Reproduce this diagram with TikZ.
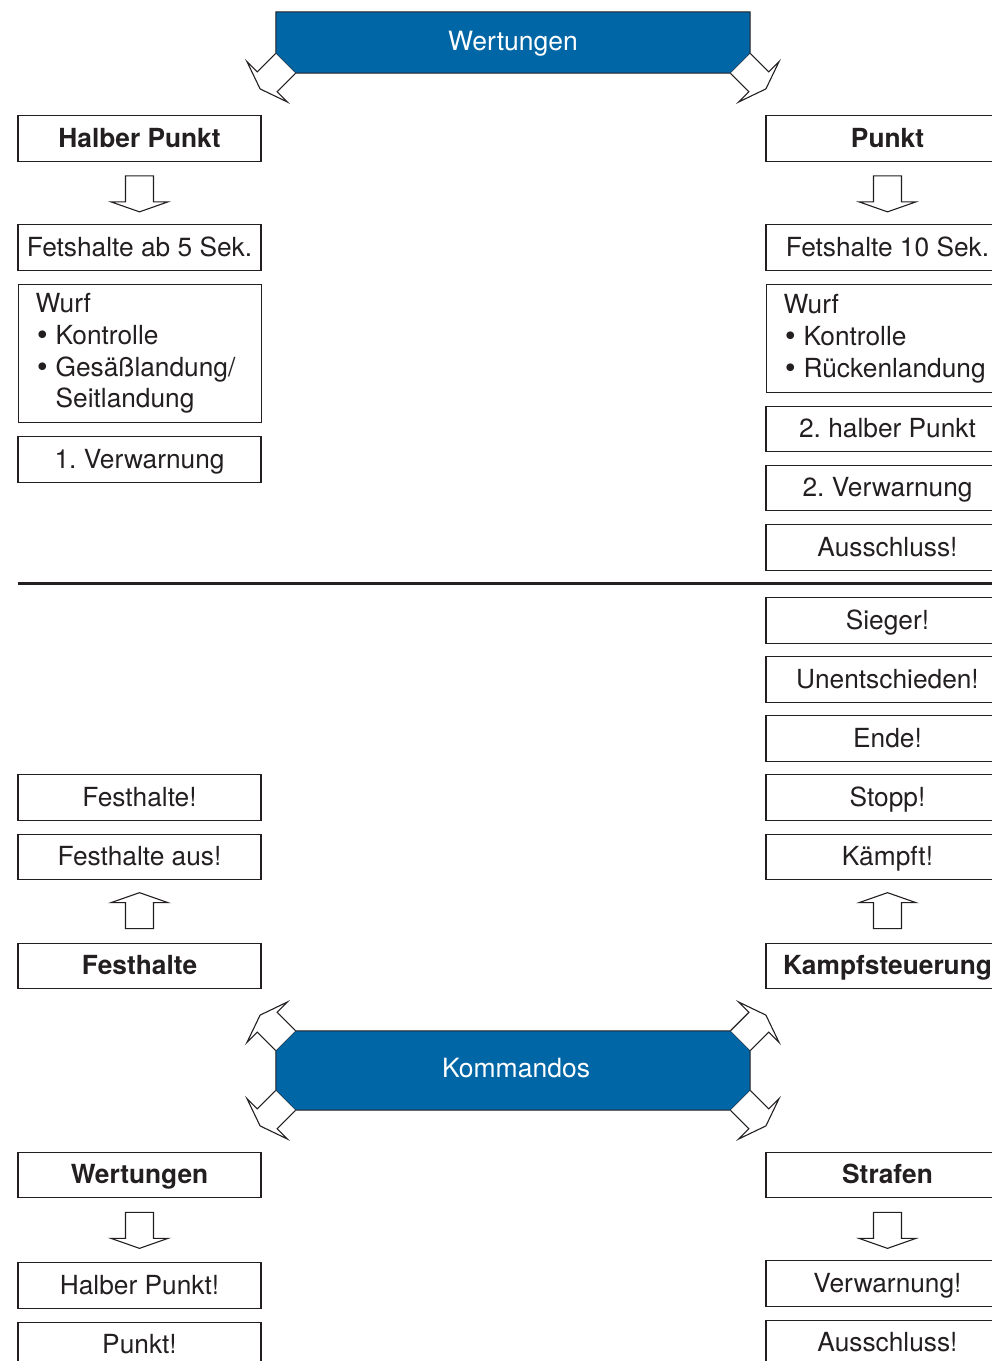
\documentclass[tikz,border=0pt]{standalone}
\usepackage{fontspec}
\setmainfont{TeX Gyre Heros}
\newfontfamily\bulletfont{DejaVu Sans}
\usetikzlibrary{calc}
\definecolor{kblue}{RGB}{0,102,166}
\definecolor{ink}{RGB}{35,31,32}
\newcommand{\bigbullet}{\makebox[20pt][l]{\hspace*{-1pt}{\bulletfont •}}}
\tikzset{
  txt/.style={font=\fontsize{26.3}{31.7}\selectfont\frenchspacing, text=ink},
  box/.style={txt, draw=ink, line width=1.2pt, minimum width=243pt, minimum height=45.5pt,
    inner sep=0pt, text height=17.5pt, text depth=0pt},
  boldbox/.style={box, font=\fontsize{26.3}{31.7}\selectfont\bfseries},
  listbox/.style={txt, draw=ink, line width=1.2pt, inner xsep=17pt, inner ysep=0pt,
    text width=209pt, align=left, anchor=north west},
  arrowline/.style={draw=ink, line width=1.1pt, fill=white, line join=miter},
  barrow/.pic={\filldraw[arrowline] (0,14) -- (26,14) -- (26,28.5) -- (36,0) -- (26,-28.5) -- (26,-14) -- (0,-14);},
  barrowc/.pic={\filldraw[arrowline] (0,14) -- (26,14) -- (26,28.5) -- (36,0) -- (26,-28.5) -- (26,-14) -- (0,-14) -- cycle;},
  bluebox/.style={fill=kblue, draw=ink, line width=1pt},
  blueframe/.style={minimum width=474pt, inner sep=0pt},
  bluetext/.style={font=\fontsize{26.5}{30}\selectfont, text=white, inner sep=0pt},
  sepline/.style={draw=ink, line width=2.6pt}
}
\begin{document}
\begin{tikzpicture}[x=1pt,y=1pt]
\useasboundingbox (0,0) rectangle (992,-1361);
\clip (0,0) rectangle (992,-1361);

% ---- top blue box: Wertungen ----
\node[blueframe, minimum height=61pt] (wert) at (513,-42.5) {};
\path[bluebox] (wert.north west) -- (wert.north east) -- ($(wert.south east)+(0,19.5)$)
  -- ($(wert.south east)+(-19.5,0)$) -- ($(wert.south west)+(19.5,0)$)
  -- ($(wert.south west)+(0,19.5)$) -- cycle;
\node[bluetext] (wertlabel) at ($(wert)+(0,-1.5)$) {Wertungen};
\pic[rotate=225] at ($(wert.south west)+(9.75,9.75)$) {barrow};
\pic[rotate=315] at ($(wert.south east)+(-9.75,9.75)$) {barrow};

% ---- left column top ----
\node[boldbox] (hp) at (139.5,-138.5) {Halber Punkt};
\node[box] (f5) at (139.5,-247.5) {Fetshalte ab 5 Sek.};
\pic[rotate=-90] at ($(hp.south)+(0,-14)$) {barrowc};
\node[listbox, minimum height=138pt] (wurfL) at (18,-284) {Wurf\\
\bigbullet Kontrolle\\
\bigbullet Gesäßlandung/\\
\hspace*{20pt}Seitlandung};
\node[box] (vw1) at (139.5,-459.5) {1. Verwarnung};

% ---- right column top ----
\node[boldbox] (pk) at (887.5,-138.5) {Punkt};
\node[box] (f10) at (887.5,-247.5) {Fetshalte 10 Sek.};
\pic[rotate=-90] at ($(pk.south)+(0,-14)$) {barrowc};
\node[listbox, minimum height=108pt] (wurfR) at (766,-284) {Wurf\\
\bigbullet Kontrolle\\
\bigbullet Rückenlandung};
\node[box] (hp2) at (887.5,-429) {2. halber Punkt};
\node[box] (vw2) at (887.5,-488) {2. Verwarnung};
\node[box] (aus1) at (887.5,-547.5) {Ausschluss!};

% ---- separator ----
\coordinate (sepL) at (18,-583.5);
\coordinate (sepR) at (1010,-583.5);
\draw[sepline] (sepL) -- (sepR);

% ---- right column middle ----
\node[box] (sieg) at (887.5,-620.5) {Sieger!};
\node[box] (unent) at (887.5,-679.5) {Unentschieden!};
\node[box] (ende) at (887.5,-738.5) {Ende!};
\node[box] (stopp) at (887.5,-797.5) {Stopp!};
\node[box] (kaempft) at (887.5,-857) {Kämpft!};
\node[boldbox] (ksteu) at (887.5,-966) {Kampfsteuerung};
\pic[rotate=90] at ($(ksteu.north)+(0,14)$) {barrowc};

% ---- left column middle ----
\node[box] (fh) at (139.5,-797.5) {Festhalte!};
\node[box] (fha) at (139.5,-857) {Festhalte aus!};
\node[boldbox] (fest) at (139.5,-966) {Festhalte};
\pic[rotate=90] at ($(fest.north)+(0,14)$) {barrowc};

% ---- Kommandos box ----
\node[blueframe, minimum height=79pt] (komm) at (513,-1070.5) {};
\path[bluebox] ($(komm.north west)+(0,-19.5)$) -- ($(komm.north west)+(19.5,0)$)
  -- ($(komm.north east)+(-19.5,0)$) -- ($(komm.north east)+(0,-19.5)$)
  -- ($(komm.south east)+(0,19.5)$) -- ($(komm.south east)+(-19.5,0)$)
  -- ($(komm.south west)+(19.5,0)$) -- ($(komm.south west)+(0,19.5)$) -- cycle;
\node[bluetext] (kommlabel) at ($(komm)+(3,2)$) {Kommandos};
\pic[rotate=135] at ($(komm.north west)+(9.75,-9.75)$) {barrow};
\pic[rotate=45] at ($(komm.north east)+(-9.75,-9.75)$) {barrow};
\pic[rotate=225] at ($(komm.south west)+(9.75,9.75)$) {barrow};
\pic[rotate=315] at ($(komm.south east)+(-9.75,9.75)$) {barrow};

% ---- bottom ----
\node[boldbox] (wb) at (139.5,-1175) {Wertungen};
\pic[rotate=-90] at ($(wb.south)+(0,-14)$) {barrowc};
\node[box] (hpx) at (139.5,-1285.5) {Halber Punkt!};
\node[box] (pkx) at (139.5,-1345) {Punkt!};

\node[boldbox] (straf) at (887.5,-1175) {Strafen};
\pic[rotate=-90] at ($(straf.south)+(0,-14)$) {barrowc};
\node[box] (vwx) at (887.5,-1283.5) {Verwarnung!};
\node[box] (ausx) at (887.5,-1343) {Ausschluss!};
\end{tikzpicture}
\end{document}
